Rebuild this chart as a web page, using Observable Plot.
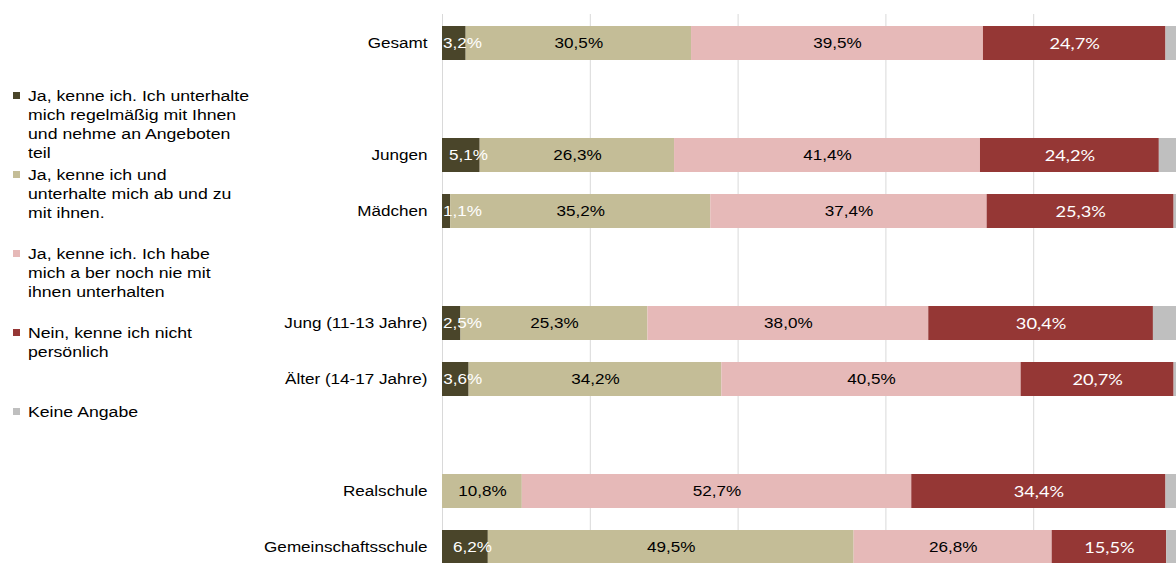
<!DOCTYPE html>
<html><head><meta charset="utf-8">
<script src="https://cdn.jsdelivr.net/npm/d3@7"></script>
<script src="https://cdn.jsdelivr.net/npm/@observablehq/plot@0.6"></script>
<style>
html,body{margin:0;padding:0;overflow:hidden;background:#fff;}
#wrap{position:relative;width:1176px;height:563px;overflow:hidden;}
#legend{position:absolute;left:0;top:0;}
.item{position:absolute;left:0;}
.sw{position:absolute;left:13px;width:7px;height:7px;top:6px;}
.tx{position:absolute;left:28px;top:0;font-family:"Liberation Sans",Arial,sans-serif;font-size:15.5px;line-height:19px;color:#000;white-space:nowrap;transform:scaleX(1.14);transform-origin:0 0;}
</style></head><body>
<div id="wrap"><div id="chart"></div><div id="legend"></div></div>
<script>
const categories = ["Gesamt","Jungen","Mädchen","Jung (11-13 Jahre)","Älter (14-17 Jahre)","Realschule","Gemeinschaftsschule"];
const rowOrder = ["Gesamt","gap1","Jungen","Mädchen","gap2","Jung (11-13 Jahre)","Älter (14-17 Jahre)","gap3","Realschule","Gemeinschaftsschule"];
const series = [
  "Ja, kenne ich. Ich unterhalte mich regelmäßig mit Ihnen und nehme an Angeboten teil",
  "Ja, kenne ich und unterhalte mich ab und zu mit ihnen.",
  "Ja, kenne ich. Ich habe mich a ber noch nie mit ihnen unterhalten",
  "Nein, kenne ich nicht persönlich",
  "Keine Angabe"
];
const legendLines = [
  ["Ja, kenne ich. Ich unterhalte","mich regelmäßig mit Ihnen","und nehme an Angeboten","teil"],
  ["Ja, kenne ich und","unterhalte mich ab und zu","mit ihnen."],
  ["Ja, kenne ich. Ich habe","mich a ber noch nie mit","ihnen unterhalten"],
  ["Nein, kenne ich nicht","persönlich"],
  ["Keine Angabe"]
];
const colors = ["#4A452A","#C4BD97","#E6B9B8","#953735","#BFBFBF"];
const regelmaessig = [3.2, 5.1, 1.1, 2.5, 3.6, 0, 6.2];
const abUndZu      = [30.5, 26.3, 35.2, 25.3, 34.2, 10.8, 49.5];
const nieUnterh    = [39.5, 41.4, 37.4, 38.0, 40.5, 52.7, 26.8];
const nichtPers    = [24.7, 24.2, 25.3, 30.4, 20.7, 34.4, 15.5];
const keineAngabe  = [2.1, 3.0, 1.0, 3.8, 1.0, 2.1, 2.0];
const gridTicks = [0, 20, 40, 60, 80, 100];

const seriesValues = [regelmaessig, abUndZu, nieUnterh, nichtPers, keineAngabe];
const table = [];
categories.forEach((c, i) => {
  let acc = 0;
  seriesValues.forEach((vals, j) => {
    const v = vals[i];
    table.push({cat: c, series: series[j], j, v, x1: acc, x2: acc + v});
    acc += v;
  });
});
const fmt = d => d.v.toFixed(1).replace(".", ",") + "%";
const mid = d => (d.x1 + d.x2) / 2;
const labels = table.filter(d => d.v > 0 && d.j < 4);

const chart = Plot.plot({
  width: 1176, height: 563,
  marginLeft: 442, marginRight: -5, marginTop: 14, marginBottom: -12,
  x: {domain: [0, 100], axis: null},
  y: {domain: rowOrder, paddingInner: 0.4, paddingOuter: 0.2, label: null, tickSize: 0, tickPadding: 15,
      tickFormat: d => d.startsWith("gap") ? "" : d},
  color: {domain: series, range: colors},
  style: {fontFamily: "'Liberation Sans', Arial, sans-serif", fontSize: "15px", color: "#000", background: "#fff"},
  marks: [
    Plot.ruleX(gridTicks, {stroke: "#d9d9d9", strokeWidth: 1}),
    Plot.barX(table.filter(d => d.v > 0), {x1: "x1", x2: "x2", y: "cat", fill: "series"}),
    Plot.text(labels.filter(d => d.j === 0), {x: d => Math.max(mid(d) + 0.95, 2.7), y: "cat", text: fmt, fill: "#fff", fontSize: 15}),
    Plot.text(labels.filter(d => d.j === 1 || d.j === 2), {x: mid, y: "cat", text: fmt, fill: "#000", fontSize: 15}),
    Plot.text(labels.filter(d => d.j === 3), {x: mid, y: "cat", text: fmt, fill: "#fff", fontSize: 16, fontFamily: "Lato, 'Liberation Sans', sans-serif"})
  ]
});
document.getElementById("chart").appendChild(chart);
chart.querySelectorAll("text").forEach(t => {
  const tr = t.getAttribute("transform");
  if (tr) t.setAttribute("transform", tr + " scale(1.14,1)");
  else {
    const x = +t.getAttribute("x") || 0, y = +t.getAttribute("y") || 0;
    t.removeAttribute("x"); t.removeAttribute("y");
    t.setAttribute("transform", `translate(${x},${y}) scale(1.14,1)`);
  }
});

const legend = document.getElementById("legend");
series.forEach((s, i) => {
  const item = document.createElement("div");
  item.className = "item";
  item.style.top = (85.5 + i * 79) + "px";
  const sw = document.createElement("div");
  sw.className = "sw"; sw.style.background = colors[i];
  const tx = document.createElement("div");
  tx.className = "tx";
  tx.innerHTML = legendLines[i].join("<br>");
  item.appendChild(sw); item.appendChild(tx);
  legend.appendChild(item);
});
</script>
</body></html>
